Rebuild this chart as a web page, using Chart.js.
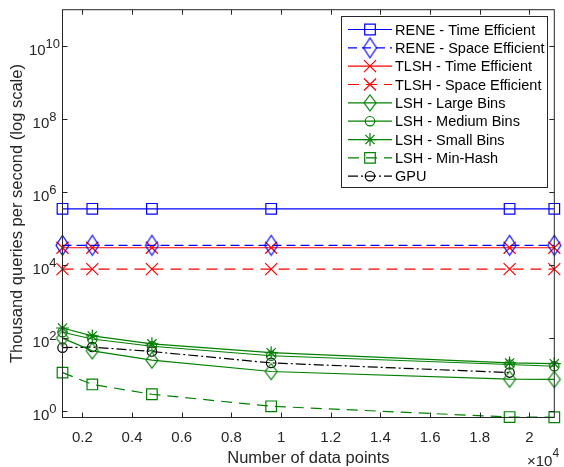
<!DOCTYPE html>
<html>
<head>
<meta charset="utf-8">
<script src="https://cdn.jsdelivr.net/npm/chart.js@4.4.0/dist/chart.umd.min.js"></script>
<style>
  html, body { margin: 0; padding: 0; background: #fff; }
</style>
</head>
<body>
<canvas id="myChart" width="564" height="467"></canvas>
<script>
// data (thousand queries per second)
const nPoints   = [1200, 2400, 4800, 9600, 19200, 21000];
const gpuPoints = [1200, 2400, 4800, 9600, 19200];
const reneTime  = [350000, 350000, 350000, 350000, 350000, 350000];
const reneSpace = [35000, 35000, 35000, 35000, 35000, 35000];
const tlshTime  = [30000, 30000, 30000, 30000, 30000, 30000];
const tlshSpace = [7800, 7800, 7800, 7800, 7800, 7800];
const lshLarge  = [100, 45, 25, 12.2, 7.5, 7.4];
const lshMedium = [145, 95, 60, 33, 19, 17];
const lshSmall  = [190, 115, 70, 40, 21, 20];
const minHash   = [11.4, 5.4, 2.9, 1.36, 0.69, 0.68];
const gpu       = [55, 57, 43, 21, 11.4];

const xTicks = [2000, 4000, 6000, 8000, 10000, 12000, 14000, 16000, 18000, 20000];
const xTickLabels = ["0.2", "0.4", "0.6", "0.8", "1", "1.2", "1.4", "1.6", "1.8", "2"];
const yTickExps = [0, 2, 4, 6, 8, 10];

const FONT = '"Liberation Sans", Arial, Helvetica, sans-serif';
const axisColor = "#262626";
const blue = "#0000ff", red = "#ff0000", green = "#008000", black = "#000000";

// MATLAB style diamond is a bit taller than wide, so make it as an image
function diamond(w, h, color) {
  const c = document.createElement("canvas");
  c.width = w + 4; c.height = h + 4;
  const g = c.getContext("2d");
  g.strokeStyle = color;
  g.lineWidth = 1.2;
  g.beginPath();
  g.moveTo(c.width / 2, 2);
  g.lineTo(c.width - 2, c.height / 2);
  g.lineTo(c.width / 2, c.height - 2);
  g.lineTo(2, c.height / 2);
  g.closePath();
  g.stroke();
  return c;
}

function series(label, xs, ys, color, style, radius, dash) {
  return {
    label: label,
    data: xs.map((x, i) => ({ x: x, y: ys[i] })),
    borderColor: color,
    borderWidth: 1.2,
    borderDash: dash || [],
    pointStyle: style,
    pointRadius: radius,
    pointBorderColor: color,
    pointBackgroundColor: "rgba(0,0,0,0)",
    pointBorderWidth: 1.2,
    fill: false,
    tension: 0,
    clip: false
  };
}

const datasets = [
  series("RENE - Time Efficient", nPoints, reneTime, blue, "rect", 7.5),
  series("RENE - Space Efficient", nPoints, reneSpace, blue, diamond(13, 20, blue), 7, [9, 5]),
  series("TLSH - Time Efficient", nPoints, tlshTime, red, "crossRot", 8.5),
  series("TLSH - Space Efficient", nPoints, tlshSpace, red, "crossRot", 8.5, [11, 7]),
  series("LSH - Large Bins", nPoints, lshLarge, green, diamond(12, 16, green), 7),
  series("LSH - Medium Bins", nPoints, lshMedium, green, "circle", 4.7),
  series("LSH - Small Bins", nPoints, lshSmall, green, "star", 6.5),
  series("LSH - Min-Hash", nPoints, minHash, green, "rect", 7.5, [11, 7]),
  series("GPU", gpuPoints, gpu, black, "circle", 4.7, [10, 3, 2, 3])
];

const matlabFrame = {
  id: "matlabFrame",
  afterDraw(chart) {
    const ctx = chart.ctx;
    const a = chart.chartArea;
    const x = chart.scales.x, y = chart.scales.y;
    ctx.save();

    // box + inward ticks on all sides
    ctx.strokeStyle = axisColor;
    ctx.lineWidth = 1;
    ctx.setLineDash([]);
    ctx.strokeRect(a.left, a.top, a.right - a.left, a.bottom - a.top);
    ctx.beginPath();
    xTicks.forEach(v => {
      const px = Math.round(x.getPixelForValue(v)) + 0.5;
      ctx.moveTo(px, a.bottom); ctx.lineTo(px, a.bottom - 5);
      ctx.moveTo(px, a.top); ctx.lineTo(px, a.top + 5);
    });
    yTickExps.forEach(e => {
      const py = Math.round(y.getPixelForValue(Math.pow(10, e))) + 0.5;
      ctx.moveTo(a.left, py); ctx.lineTo(a.left + 5, py);
      ctx.moveTo(a.right, py); ctx.lineTo(a.right - 5, py);
    });
    ctx.stroke();

    // tick labels
    ctx.fillStyle = axisColor;
    ctx.textBaseline = "alphabetic";
    ctx.font = "15px " + FONT;
    ctx.textAlign = "center";
    xTicks.forEach((v, i) => {
      ctx.fillText(xTickLabels[i], x.getPixelForValue(v), 441.5);
    });
    yTickExps.forEach(e => {
      const py = y.getPixelForValue(Math.pow(10, e));
      ctx.font = "15px " + FONT;
      const wb = ctx.measureText("10").width;
      ctx.font = "13px " + FONT;
      const we = ctx.measureText(String(e)).width;
      const x0 = 44.5 - (wb + we) / 2;
      ctx.textAlign = "left";
      ctx.font = "15px " + FONT;
      ctx.fillText("10", x0, py + 8.8);
      ctx.font = "13px " + FONT;
      ctx.fillText(String(e), x0 + wb, py + 2.2);
    });

    // x10^4 exponent
    ctx.textAlign = "left";
    ctx.font = "15px " + FONT;
    ctx.fillText("\u00d710", 527, 466);
    const wx = ctx.measureText("\u00d710").width;
    ctx.font = "12px " + FONT;
    ctx.fillText("4", 527 + wx, 457);

    // axis titles
    ctx.font = "16.5px " + FONT;
    ctx.textAlign = "center";
    ctx.fillText("Number of data points", (a.left + a.right) / 2, 463);
    ctx.save();
    ctx.translate(21.7, (a.top + a.bottom) / 2);
    ctx.rotate(-Math.PI / 2);
    ctx.fillText("Thousand queries per second (log scale)", 0, 0);
    ctx.restore();

    // legend
    const lx = 341.5, ly = 16.5, lw = 206, lh = 171;
    ctx.fillStyle = "#ffffff";
    ctx.fillRect(lx, ly, lw, lh);
    ctx.strokeStyle = axisColor;
    ctx.lineWidth = 1;
    ctx.strokeRect(lx, ly, lw, lh);
    ctx.font = "14.5px " + FONT;
    ctx.textAlign = "left";
    chart.data.datasets.forEach((ds, i) => {
      const ry = 29.5 + i * 18.34;
      ctx.strokeStyle = ds.borderColor;
      ctx.lineWidth = ds.borderWidth;
      ctx.setLineDash(ds.borderDash);
      ctx.beginPath();
      ctx.moveTo(348, ry); ctx.lineTo(392, ry);
      ctx.stroke();
      ctx.setLineDash([]);
      ctx.fillStyle = "rgba(0,0,0,0)";
      ctx.lineWidth = ds.pointBorderWidth;
      Chart.helpers.drawPoint(ctx, {
        pointStyle: ds.pointStyle, rotation: 0,
        radius: ds.pointRadius, borderWidth: ds.pointBorderWidth
      }, 370, ry);
      ctx.fillStyle = "#000000";
      ctx.fillText(ds.label, 395, ry + 5.2);
    });

    ctx.restore();
  }
};

new Chart(document.getElementById("myChart"), {
  type: "line",
  data: { datasets: datasets },
  options: {
    responsive: false,
    devicePixelRatio: 1,
    animation: false,
    events: [],
    layout: { padding: { left: 62.5, top: 4.5, right: 2.5, bottom: 49.5 } },
    plugins: { legend: { display: false }, tooltip: { enabled: false } },
    scales: {
      x: { type: "linear", min: 1200, max: 21000, display: false },
      y: { type: "logarithmic", min: 0.67, max: 1e11, display: false }
    }
  },
  plugins: [matlabFrame]
});
</script>
</body>
</html>
